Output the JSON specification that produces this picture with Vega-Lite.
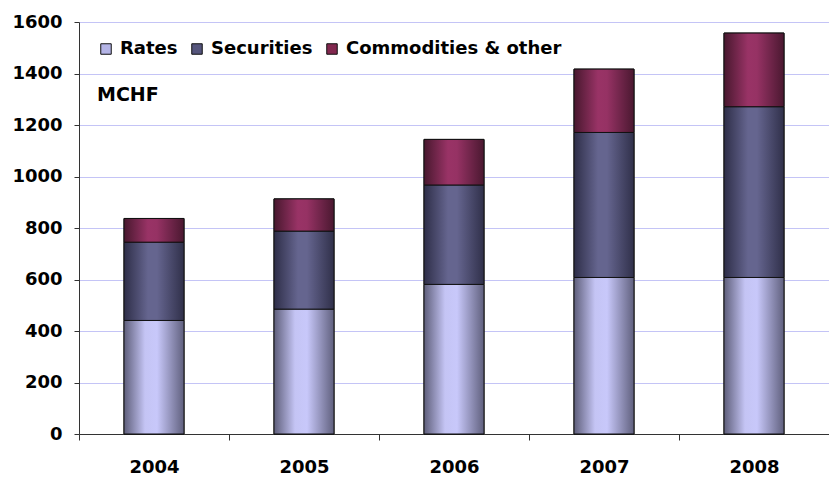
{
  "$schema": "https://vega.github.io/schema/vega-lite/v6.json",
  "autosize": "none",
  "width": 750,
  "height": 412,
  "padding": {"left": 79, "top": 22, "right": 0, "bottom": 44},
  "background": "white",
  "config": {
    "view": {"stroke": null},
    "font": "DejaVu Sans",
    "axis": {"labelFont": "DejaVu Sans", "labelFontWeight": "bold", "labelFontSize": 18, "labelColor": "black", "domainColor": "#333333", "tickColor": "#333333", "title": null}
  },
  "layer": [
    {
      "data": {"values": [
        {"year": "2004", "series": "Rates", "rank": 1, "value": 441},
        {"year": "2004", "series": "Securities", "rank": 2, "value": 304},
        {"year": "2004", "series": "Commodities & other", "rank": 3, "value": 92},
        {"year": "2005", "series": "Rates", "rank": 1, "value": 485},
        {"year": "2005", "series": "Securities", "rank": 2, "value": 303},
        {"year": "2005", "series": "Commodities & other", "rank": 3, "value": 125},
        {"year": "2006", "series": "Rates", "rank": 1, "value": 581},
        {"year": "2006", "series": "Securities", "rank": 2, "value": 386},
        {"year": "2006", "series": "Commodities & other", "rank": 3, "value": 177},
        {"year": "2007", "series": "Rates", "rank": 1, "value": 608},
        {"year": "2007", "series": "Securities", "rank": 2, "value": 563},
        {"year": "2007", "series": "Commodities & other", "rank": 3, "value": 246},
        {"year": "2008", "series": "Rates", "rank": 1, "value": 608},
        {"year": "2008", "series": "Securities", "rank": 2, "value": 663},
        {"year": "2008", "series": "Commodities & other", "rank": 3, "value": 286}
      ]},
      "transform": [
        {"stack": "value", "groupby": ["year"], "sort": [{"field": "rank", "order": "ascending"}], "as": ["v0", "v1"]}
      ],
      "encoding": {
        "x": {
          "field": "year", "type": "ordinal",
          "scale": {"paddingInner": 0.6, "paddingOuter": 0.3},
          "axis": {"labelAngle": 0, "tickSize": 6, "tickOffset": -75, "labelOffset": 75, "labelPadding": 18, "grid": false}
        },
        "y": {
          "field": "v0", "type": "quantitative",
          "scale": {"domain": [0, 1600], "nice": false},
          "axis": {"values": [0, 200, 400, 600, 800, 1000, 1200, 1400, 1600], "format": "d", "tickSize": 5, "labelPadding": 12, "gridColor": "#c4c4f6", "gridWidth": 1.2, "domain": true}
        },
        "y2": {"field": "v1"}
      },
      "layer": [
        {
          "mark": {"type": "bar", "stroke": "#111111", "strokeWidth": 1},
          "encoding": {
            "color": {
              "field": "series", "type": "nominal",
              "scale": {"domain": ["Rates", "Securities", "Commodities & other"], "range": ["#b4b4e6", "#55557c", "#82284f"]},
              "legend": {
                "title": null, "orient": "top-left", "offset": 18, "direction": "horizontal",
                "symbolType": "square", "symbolSize": 110, "symbolStrokeColor": "#111111", "symbolStrokeWidth": 1, "symbolOpacity": 1,
                "labelFont": "DejaVu Sans", "labelFontWeight": "bold", "labelFontSize": 18, "labelColor": "black",
                "labelOffset": 5, "columnPadding": 10, "padding": 0, "labelLimit": 400
              }
            }
          }
        },
        {
          "transform": [{"filter": "datum.series === 'Rates'"}],
          "mark": {"type": "bar", "stroke": "#111111", "strokeWidth": 1,
            "color": {"gradient": "linear", "x1": 0, "y1": 0, "x2": 1, "y2": 0, "stops": [{"offset": 0, "color": "#5e5e7a"}, {"offset": 0.35, "color": "#c4c4f4"}, {"offset": 0.55, "color": "#c8c8fa"}, {"offset": 1, "color": "#60607e"}]}}
        },
        {
          "transform": [{"filter": "datum.series === 'Securities'"}],
          "mark": {"type": "bar", "stroke": "#111111", "strokeWidth": 1,
            "color": {"gradient": "linear", "x1": 0, "y1": 0, "x2": 1, "y2": 0, "stops": [{"offset": 0, "color": "#2e2e48"}, {"offset": 0.4, "color": "#65658f"}, {"offset": 0.55, "color": "#65658f"}, {"offset": 1, "color": "#30304a"}]}}
        },
        {
          "transform": [{"filter": "datum.series === 'Commodities & other'"}],
          "mark": {"type": "bar", "stroke": "#111111", "strokeWidth": 1,
            "color": {"gradient": "linear", "x1": 0, "y1": 0, "x2": 1, "y2": 0, "stops": [{"offset": 0, "color": "#48182e"}, {"offset": 0.4, "color": "#993366"}, {"offset": 0.55, "color": "#963264"}, {"offset": 1, "color": "#4a1830"}]}}
        }
      ]
    },
    {
      "data": {"values": [{"label": "MCHF", "year": "2004", "pos": 1316}]},
      "mark": {"type": "text", "align": "left", "baseline": "middle", "dx": -57, "fontSize": 19, "fontWeight": "bold", "font": "DejaVu Sans", "color": "black"},
      "encoding": {
        "x": {"field": "year", "type": "ordinal"},
        "y": {"field": "pos", "type": "quantitative"},
        "text": {"field": "label"}
      }
    }
  ]
}
